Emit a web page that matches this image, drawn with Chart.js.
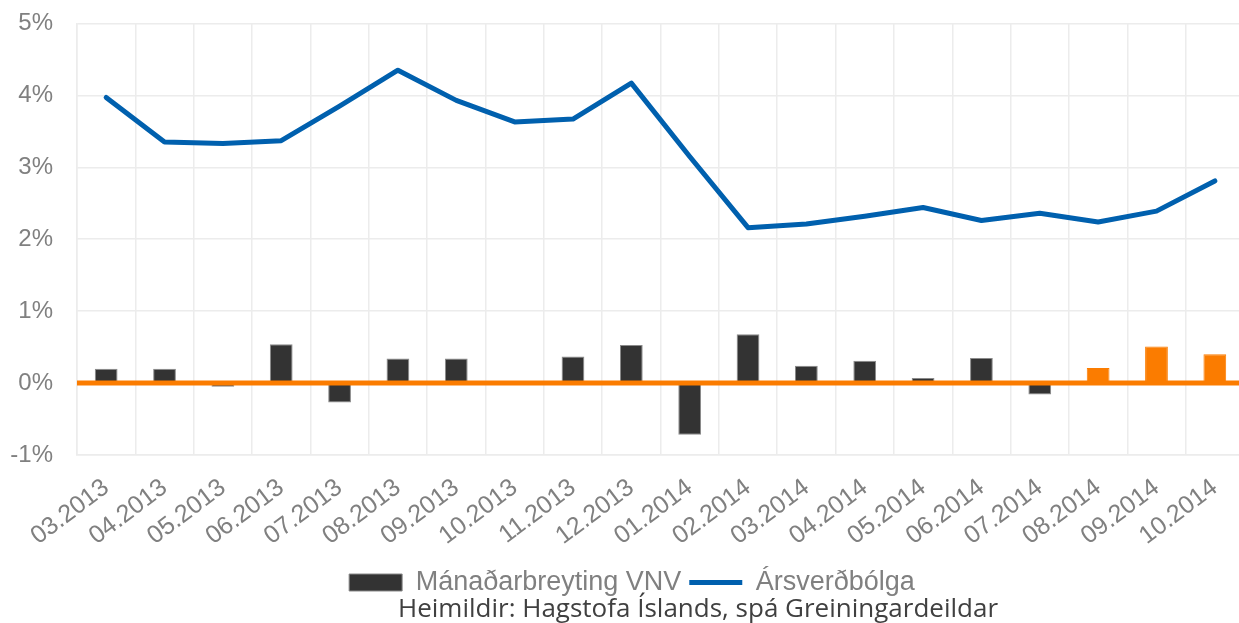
<!DOCTYPE html>
<html><head><meta charset="utf-8">
<script src="https://cdn.jsdelivr.net/npm/chart.js@4"></script>
<style>
html,body{margin:0;padding:0;background:#fff;overflow:hidden;}
#wrap{position:relative;width:1239px;height:623px;overflow:hidden;background:#fff;}
#box{position:absolute;left:0;top:0;width:1256px;height:623px;}
#src{position:absolute;left:398px;top:594px;font-family:"Open Sans",sans-serif;font-size:26px;color:#404040;white-space:nowrap;line-height:26px;}
</style></head><body>
<div id="wrap">
  <div id="box"><canvas id="c" width="1256" height="623"></canvas></div>
  <div id="src">Heimildir: Hagstofa Íslands, spá Greiningardeildar</div>
</div>
<script>
const categories = ['03.2013','04.2013','05.2013','06.2013','07.2013','08.2013','09.2013','10.2013','11.2013','12.2013',
                    '01.2014','02.2014','03.2014','04.2014','05.2014','06.2014','07.2014','08.2014','09.2014','10.2014'];
const monthlyChange = [0.20,0.20,-0.05,0.54,-0.27,0.34,0.34,0.00,0.37,0.53,
                       -0.72,0.68,0.24,0.31,0.07,0.35,-0.16,0.21,0.51,0.40];
const annualInflation = [3.97,3.35,3.33,3.37,3.85,4.35,3.93,3.63,3.67,4.17,
                         3.15,2.16,2.21,2.32,2.44,2.26,2.36,2.24,2.39,2.81];
const forecastStart = '08.2014';
const seriesNames = ['Mánaðarbreyting VNV','Ársverðbólga'];
const yMin = -1, yMax = 5, yStep = 1;

const DARK = '#333333', ORANGE = '#fb7c00', BLUE = '#0060ae', GRID = '#ececec', TICK = '#808080';
const FONT = '"Liberation Sans", Arial, sans-serif';
const fIdx = categories.indexOf(forecastStart);
const barColors = categories.map((c,i) => i >= fIdx ? ORANGE : DARK);
const barBorders = categories.map((c,i) => i >= fIdx ? ORANGE : '#8a8a8a');

const zeroLine = {
  id: 'zeroLine',
  afterDatasetsDraw(chart) {
    const {ctx, chartArea, scales} = chart;
    const y = scales.y.getPixelForValue(0);
    ctx.save();
    ctx.strokeStyle = ORANGE;
    ctx.lineWidth = 5;
    ctx.beginPath();
    ctx.moveTo(chartArea.left, y);
    ctx.lineTo(chartArea.right + 20, y);
    ctx.stroke();
    ctx.restore();
  }
};

const shiftLegend = {
  id: 'shiftLegend',
  afterLayout(chart) {
    const l = chart.legend;
    if (l) { l.left += 10; l.right += 10; }
  }
};

new Chart(document.getElementById('c'), {
  type: 'bar',
  data: {
    labels: categories,
    datasets: [
      {
        type: 'bar',
        label: seriesNames[0],
        data: monthlyChange,
        backgroundColor: barColors,
        borderColor: barBorders,
        borderWidth: 1,
        barPercentage: 0.39,
        categoryPercentage: 1.0,
        pointStyle: 'rect'
      },
      {
        type: 'line',
        label: seriesNames[1],
        data: annualInflation,
        borderColor: BLUE,
        backgroundColor: BLUE,
        borderWidth: 5,
        tension: 0,
        pointRadius: 0,
        pointHoverRadius: 0,
        borderCapStyle: 'round',
        borderJoinStyle: 'round',
        fill: false,
        pointStyle: 'line'
      }
    ]
  },
  options: {
    responsive: false,
    animation: false,
    devicePixelRatio: 1,
    layout: { padding: { top: 8, right: 12, bottom: 17, left: 0 } },
    plugins: {
      title: { display: false },
      tooltip: { enabled: false },
      legend: {
        position: 'bottom',
        labels: {
          usePointStyle: true,
          pointStyleWidth: 53,
          boxHeight: 17,
          boxWidth: 53,
          padding: 8,
          color: TICK,
          font: { family: FONT, size: 27 }
        }
      }
    },
    scales: {
      x: {
        offset: true,
        grid: { display: true, offset: true, color: GRID, lineWidth: 1.5, drawTicks: false },
        border: { display: true, color: GRID, width: 1.5 },
        ticks: {
          color: TICK,
          font: { family: FONT, size: 25 },
          minRotation: 37, maxRotation: 37,
          autoSkip: false,
          padding: 18
        },
        afterFit(scale) { scale.height = 106; }
      },
      y: {
        min: yMin, max: yMax,
        grid: { color: GRID, lineWidth: 1.5, drawTicks: true, tickLength: 15, tickColor: 'rgba(0,0,0,0)' },
        border: { display: true, color: GRID, width: 1.5 },
        ticks: {
          stepSize: yStep,
          color: TICK,
          padding: 9,
          font: { family: FONT, size: 24 },
          callback: v => v + '%'
        },
        afterFit(scale) { scale.width = 77; }
      }
    }
  },
  plugins: [zeroLine, shiftLegend]
});
</script>
</body></html>
